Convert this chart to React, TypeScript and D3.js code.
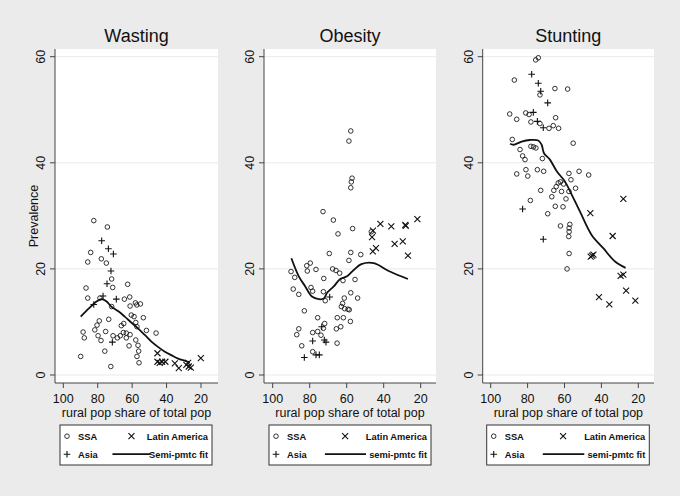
import React from "react";
import * as d3 from "d3";

type P = [number, number];

const panelTitles = ["Wasting", "Obesity", "Stunting"];
const fitLabels = ["Semi-pmtc fit", "semi-pmtc fit", "semi-pmtc fit"];
const xTicks = [100, 80, 60, 40, 20];
const yTicks = [0, 20, 40, 60];

const wastingSSA: P[] = [[82.3,29.1],[74.4,27.9],[84.1,23.1],[85.8,21.3],[77.9,21.9],[75.0,21.1],[71.9,18.1],[71.3,16.5],[62.6,17.1],[86.8,16.4],[85.8,14.5],[78.7,14.5],[71.9,12.9],[64.5,14.3],[61.4,14.7],[61.2,13.0],[58.1,13.6],[57.3,13.2],[55.2,13.4],[60.5,11.3],[58.9,11.0],[57.9,9.9],[53.5,10.8],[57.2,9.1],[51.7,8.4],[46.1,7.9],[79.1,10.2],[73.6,10.5],[80.4,9.4],[81.7,8.5],[79.8,7.4],[78.1,6.5],[88.5,8.1],[87.8,7.0],[75.4,8.2],[66.3,9.3],[64.9,9.7],[71.1,7.4],[68.6,7.0],[66.9,7.4],[65.1,8.0],[63.4,7.9],[61.2,7.6],[63.4,7.0],[61.8,5.5],[57.9,6.6],[56.6,5.6],[56.2,4.5],[57.2,3.5],[56.0,2.3],[75.9,4.5],[89.9,3.5],[72.4,1.6]];
const wastingAsia: P[] = [[77.7,25.3],[73.8,23.8],[70.9,22.8],[72.3,19.6],[74.6,17.2],[76.9,14.9],[69.2,14.3],[82.3,13.3],[71.5,6.2]];
const wastingLatin: P[] = [[45.3,4.1],[45.3,2.5],[44.0,2.3],[42.6,2.5],[40.7,2.5],[35.2,2.2],[32.9,1.3],[28.5,1.9],[27.1,1.6],[25.9,1.4],[27.5,2.3],[20.1,3.2]];
const wastingFit: P[] = [[89.9,11],[85,12.6],[80.5,13.9],[77.9,14.3],[75,13.9],[72.1,12.9],[68,12],[64.3,11],[60.5,9.9],[56.6,8.8],[52.5,7.5],[48.8,6.3],[45,5.3],[41,4.4],[37,3.7],[33.3,3.1],[29.5,2.7],[26.5,2.4]];

const obesitySSA: P[] = [[57.8,46],[58.8,44.1],[57.1,37.1],[57.5,36.4],[57.8,35.3],[72.8,30.8],[67.2,29.2],[56.8,27.6],[64.7,26.6],[46.7,27],[69.4,22.9],[57.8,23.1],[58.8,21.6],[52.4,22.7],[79.7,21.1],[81.6,20.6],[76.6,19.9],[81.3,19.6],[90.1,19.5],[88.1,18.4],[72.4,18.2],[67.6,20],[65.8,19.7],[63.8,19.2],[62,17.8],[55.5,18],[88.9,16.2],[85.9,15.2],[79.3,16.5],[78.4,15.8],[72.6,15.7],[71.6,14],[57.8,15.5],[54.1,14.5],[61.3,14.5],[62.2,13.5],[62.9,12.9],[61.1,12.5],[59.3,12.4],[58.6,12.3],[82.9,12.1],[75.7,10.8],[71.9,9.7],[65.1,10.8],[61.8,10.8],[58,10.1],[65.6,8.7],[63.2,9.1],[85.9,8.7],[87,7.6],[78.4,8],[75.7,8.2],[73.9,7.5],[72.6,8.8],[65.2,6],[84.3,5.5],[78.4,4.4]];
const obesityAsia: P[] = [[69.2,14.7],[73.5,9.1],[78.4,6.4],[72.1,6.6],[71.2,6.2],[82.9,3.3],[76.6,3.8],[74.8,3.8]];
const obesityLatin: P[] = [[41.8,28.5],[35.9,28],[28.3,28.3],[28.1,28.1],[21.8,29.4],[45.8,27.2],[46.3,26],[34.1,24.7],[29.7,25.2],[45.9,23.3],[44.2,23.9],[26.9,22.5]];
const obesityFit: P[] = [[89.9,22],[85.9,18.6],[82.4,16.7],[78.8,14.8],[75.1,14.3],[72.4,14.4],[70.6,15.5],[67,16.7],[63.5,18.1],[59.8,18.6],[56.2,19.8],[52.1,20.9],[45.4,21.1],[37.3,19.6],[26.9,18.1]];

const stuntingSSA: P[] = [[74.2,59.8],[75.6,59.4],[87.2,55.6],[65.2,54],[58.3,53.9],[73.3,52.8],[89.7,49.2],[85.9,48.2],[81,49.4],[79.2,49.1],[78.2,47.7],[73.3,47.4],[64.8,48.5],[66.1,47],[63.2,46.5],[68.4,46.5],[88.3,44.4],[55.3,43.7],[84.1,42.5],[82.7,41.3],[81.4,40.6],[78.2,43.1],[76.8,43],[75.5,42.8],[72,40.8],[85.9,37.9],[80.9,38.7],[79.9,37.5],[74.7,38.7],[71.3,38.4],[57.6,38],[52.1,38.4],[46.9,37.7],[56.5,36.8],[54,35.2],[63.4,36.2],[62.2,36.4],[60.5,36],[64.5,35.5],[65.8,34.8],[61.6,34.6],[57.6,34.6],[72.9,34.8],[66.9,33.6],[59.2,33.2],[78.5,32.9],[65,31.8],[60.8,31.7],[69.1,30.4],[62.2,28.1],[57.1,28.4],[57.5,27.7],[57.5,27],[57.7,26.1],[57.5,22.9],[58.6,20]];
const stuntingAsia: P[] = [[77.8,56.7],[74.2,55],[72.9,53.5],[69.1,51.3],[76.9,49.5],[74.7,47.8],[71.5,46.6],[82.7,31.3],[71.5,25.6]];
const stuntingLatin: P[] = [[28.1,33.2],[46,30.5],[33.9,26.2],[45.8,22.3],[44.3,22.7],[45,22.5],[29.6,18.7],[28.1,18.9],[26.6,15.9],[21.6,14],[41.3,14.7],[35.7,13.3]];
const stuntingFit: P[] = [[89.5,43.6],[87.7,43.4],[85.9,43.6],[83.2,44],[78.7,44.3],[74.2,44.2],[72.4,43.4],[71.1,41.8],[67.9,40.6],[64.2,38.4],[59.8,36.5],[56.1,34],[51.6,30.8],[45.3,26.4],[39,23.9],[32.6,21.4],[26.9,20.2]];

const panelData = [
  { ssa: wastingSSA, asia: wastingAsia, latin: wastingLatin, fit: wastingFit },
  { ssa: obesitySSA, asia: obesityAsia, latin: obesityLatin, fit: obesityFit },
  { ssa: stuntingSSA, asia: stuntingAsia, latin: stuntingLatin, fit: stuntingFit },
];

// layout
const layouts = [
  { left: 55, right: 218, x100: 63.3, x20: 201, legL: 60, legR: 212 },
  { left: 264, right: 436, x100: 272.7, x20: 420.7, legL: 269, legR: 431 },
  { left: 482.7, right: 654, x100: 490.7, x20: 638.3, legL: 486.7, legR: 649.3 },
];
const TOP = 49;
const BOTTOM = 383;
const FONT = "'Liberation Sans', Arial, sans-serif";

const yScale = d3.scaleLinear().domain([0, 60]).range([375, 56.7]);

function Panel({ idx }: { idx: number }) {
  const L = layouts[idx];
  const D = panelData[idx];
  const x = d3.scaleLinear().domain([100, 20]).range([L.x100, L.x20]);
  const line = d3
    .line<P>()
    .x((d) => x(d[0]))
    .y((d) => yScale(d[1]))
    .curve(d3.curveCatmullRom);
  const cx = (L.left + L.right) / 2;
  const lw = L.legR - L.legL;
  const row1 = 439.5;
  const row2 = 457.5;
  const fitTextW = 58;
  return (
    <g>
      <text x={cx} y={42} textAnchor="middle" fontSize={18} fontFamily={FONT} fill="#111">
        {panelTitles[idx]}
      </text>
      <rect x={L.left} y={TOP} width={L.right - L.left} height={BOTTOM - TOP} fill="#fff" />
      {yTicks.map((t) => (
        <line key={"g" + t} x1={L.left} x2={L.right} y1={yScale(t)} y2={yScale(t)} stroke="#e9e9e9" strokeWidth={1} />
      ))}
      {/* axes */}
      <line x1={L.left} x2={L.left} y1={TOP} y2={BOTTOM} stroke="#444" strokeWidth={1} />
      <line x1={L.left} x2={L.right} y1={BOTTOM} y2={BOTTOM} stroke="#444" strokeWidth={1} />
      {yTicks.map((t) => (
        <g key={"y" + t}>
          <line x1={L.left - 5} x2={L.left} y1={yScale(t)} y2={yScale(t)} stroke="#444" />
          <text
            transform={`translate(${L.left - 10},${yScale(t)}) rotate(-90)`}
            textAnchor="middle"
            fontSize={12.5}
            fontFamily={FONT}
            fill="#111"
          >
            {t}
          </text>
        </g>
      ))}
      {xTicks.map((t) => (
        <g key={"x" + t}>
          <line x1={x(t)} x2={x(t)} y1={BOTTOM} y2={BOTTOM + 5} stroke="#444" />
          <text x={x(t)} y={403} textAnchor="middle" fontSize={12.5} fontFamily={FONT} fill="#111">
            {t}
          </text>
        </g>
      ))}
      <text x={cx} y={416.5} textAnchor="middle" fontSize={12.5} fontFamily={FONT} fill="#111">
        rural pop share of total pop
      </text>
      {idx === 0 && (
        <text
          transform={`translate(37.5,${(TOP + BOTTOM) / 2}) rotate(-90)`}
          textAnchor="middle"
          fontSize={12.5}
          fontFamily={FONT}
          fill="#111"
        >
          Prevalence
        </text>
      )}
      {/* data */}
      <g fill="none" stroke="#111" strokeWidth={0.85}>
        {D.ssa.map((d, i) => (
          <circle key={"s" + i} cx={x(d[0])} cy={yScale(d[1])} r={2.3} />
        ))}
      </g>
      <g stroke="#111" strokeWidth={1.1}>
        {D.asia.map((d, i) => {
          const px = x(d[0]);
          const py = yScale(d[1]);
          return (
            <path key={"a" + i} d={`M${px - 3.3},${py}H${px + 3.3}M${px},${py - 3.3}V${py + 3.3}`} />
          );
        })}
        {D.latin.map((d, i) => {
          const px = x(d[0]);
          const py = yScale(d[1]);
          const s = 3;
          return (
            <path key={"l" + i} d={`M${px - s},${py - s}L${px + s},${py + s}M${px - s},${py + s}L${px + s},${py - s}`} />
          );
        })}
      </g>
      <path d={line(D.fit) || ""} fill="none" stroke="#111" strokeWidth={1.8} />
      {/* legend */}
      <rect x={L.legL} y={425} width={lw} height={40} fill="#fff" stroke="#333" strokeWidth={1} />
      <circle cx={L.legL + 7} cy={row1 - 3.3} r={2.3} fill="none" stroke="#111" strokeWidth={0.85} />
      <text x={L.legL + 18} y={row1} fontSize={9.3} fontWeight="bold" fontFamily={FONT} fill="#111">
        SSA
      </text>
      <path
        d={`M${L.legL + lw * 0.47 - 3},${row1 - 6.3}L${L.legL + lw * 0.47 + 3},${row1 - 0.3}M${L.legL + lw * 0.47 - 3},${row1 - 0.3}L${L.legL + lw * 0.47 + 3},${row1 - 6.3}`}
        stroke="#111"
        strokeWidth={1.1}
      />
      <text x={L.legR - 4} y={row1} textAnchor="end" fontSize={9.3} fontWeight="bold" fontFamily={FONT} fill="#111">
        Latin America
      </text>
      <path
        d={`M${L.legL + 7 - 3.3},${row2 - 3.3}H${L.legL + 7 + 3.3}M${L.legL + 7},${row2 - 6.6}V${row2}`}
        stroke="#111"
        strokeWidth={1.1}
      />
      <text x={L.legL + 18} y={row2} fontSize={9.3} fontWeight="bold" fontFamily={FONT} fill="#111">
        Asia
      </text>
      <line
        x1={L.legL + lw * 0.345}
        x2={L.legR - 4 - fitTextW - (idx === 0 ? 0 : 3)}
        y1={row2 - 3.3}
        y2={row2 - 3.3}
        stroke="#111"
        strokeWidth={1.8}
      />
      <text x={L.legR - 4} y={row2} textAnchor="end" fontSize={9.3} fontWeight="bold" fontFamily={FONT} fill="#111">
        {fitLabels[idx]}
      </text>
    </g>
  );
}

export default function App() {
  return (
    <svg
      width={680}
      height={496}
      viewBox="0 0 680 496"
      style={{ position: "absolute", left: 0, top: 0, display: "block" }}
    >
      <rect x={0} y={0} width={680} height={496} fill="#ebebeb" />
      {[0, 1, 2].map((i) => (
        <Panel key={i} idx={i} />
      ))}
    </svg>
  );
}
